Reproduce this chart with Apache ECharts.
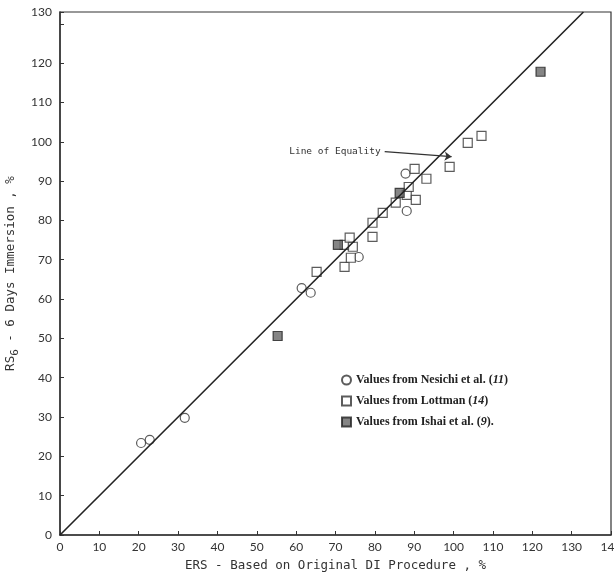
<!DOCTYPE html>
<html>
<head>
<meta charset="utf-8">
<title>RS6 vs ERS</title>
<script src="https://cdn.jsdelivr.net/npm/echarts@6/dist/echarts.min.js"></script>
<style>
  html, body { margin: 0; padding: 0; background: #fff; }
  #chart { width: 614px; height: 575px; }
</style>
</head>
<body>
<div id="chart"></div>
<script>
// points: [ERS %, RS6 %]
var nesichi = [
  [20.6, 23.4], [22.8, 24.2], [31.7, 29.8], [61.4, 62.8], [63.7, 61.6],
  [75.9, 70.7], [88.1, 82.4], [87.8, 91.9]
];
var lottman = [
  [65.2, 66.9], [72.3, 68.2], [73.9, 70.5], [72.3, 73.8], [74.4, 73.3],
  [73.6, 75.6], [79.4, 75.8], [79.4, 79.4], [82.0, 81.9], [85.3, 84.5],
  [88.1, 86.5], [90.4, 85.2], [88.6, 88.5], [93.1, 90.6], [90.1, 93.1],
  [99.0, 93.6], [103.6, 99.7], [107.1, 101.5]
];
var ishai = [
  [55.3, 50.6], [70.6, 73.8], [86.3, 87.0], [122.1, 117.8]
];
var equality = [[0, 0], [133, 133]];
var arrowFrom = [82.5, 97.5];
var arrowTo = [99.5, 96.2];

var names = [
  "Values from Nesichi et al. (11)",
  "Values from Lottman (14)",
  "Values from Ishai et al. (9)."
];

var mono = "DejaVu Sans Mono";
var chart = echarts.init(document.getElementById("chart"));

var option = {
  backgroundColor: "#fff",
  animation: false,
  grid: {
    left: 60, right: 3, top: 12, bottom: 40,
    outerBoundsMode: "none",
    show: true, borderColor: "#333", borderWidth: 1.2
  },
  xAxis: {
    type: "value",
    min: 0, max: 140, interval: 10,
    name: "ERS - Based on Original DI Procedure , %",
    nameLocation: "middle",
    nameGap: 24,
    nameTextStyle: { fontFamily: mono, fontSize: 12.5, color: "#333" },
    axisLine: { lineStyle: { color: "#333", width: 1.5 } },
    axisTick: { inside: true, length: 4, lineStyle: { color: "#333" } },
    axisLabel: { fontFamily: "Lato", fontSize: 12, color: "#333", margin: 6 },
    splitLine: { show: false }
  },
  yAxis: {
    type: "value",
    min: 0, max: 133, interval: 10,
    name: "RS{s|6} - 6 Days Immersion , %",
    nameLocation: "middle",
    nameGap: 33,
    nameTextStyle: {
      fontFamily: mono, fontSize: 12.5, color: "#333",
      rich: { s: { fontFamily: mono, fontSize: 11, color: "#333", padding: [7, 0, 0, 0] } }
    },
    axisLine: { lineStyle: { color: "#333", width: 1.5 } },
    axisTick: {
      inside: true, length: 4, lineStyle: { color: "#333" },
      interval: function (i, v) { return v !== 130; }
    },
    axisLabel: {
      fontFamily: "Lato", fontSize: 12, color: "#333", margin: 8,
      formatter: function (v) {
        // the figure prints 130 at the top of the frame
        if (v === 130) return "";
        if (v === 133) return "130";
        return String(v);
      }
    },
    splitLine: { show: false }
  },
  legend: {
    orient: "vertical",
    left: 336, top: 369,
    itemGap: 9,
    itemWidth: 9, itemHeight: 9,
    data: names,
    formatter: function (name) {
      var m = name.match(/^(.*\()(\d+)(\).*)$/);
      return m[1] + "{i|" + m[2] + "}" + m[3];
    },
    textStyle: {
      fontFamily: "Liberation Serif", fontWeight: "bold", fontSize: 12, color: "#222",
      rich: { i: { fontFamily: "Liberation Serif", fontWeight: "bold", fontStyle: "italic", fontSize: 12, color: "#222" } }
    }
  },
  series: [
    {
      name: "equality",
      type: "line",
      data: equality,
      symbol: "none",
      clip: true,
      lineStyle: { color: "#222", width: 1.6 },
      silent: true,
      markLine: {
        silent: true,
        symbol: ["none", "arrow"],
        symbolSize: 7,
        lineStyle: { color: "#333", width: 1.3, type: "solid", curveness: -0.05 },
        label: {
          show: true, position: "start", distance: 4,
          formatter: "Line of Equality",
          fontFamily: mono, fontSize: 9.5, color: "#333"
        },
        data: [[{ coord: arrowFrom }, { coord: arrowTo }]]
      }
    },
    {
      name: names[0],
      type: "scatter",
      data: nesichi,
      symbol: "circle",
      symbolSize: 9,
      itemStyle: { color: "#fff", borderColor: "#333", borderWidth: 1.2 }
    },
    {
      name: names[1],
      type: "scatter",
      data: lottman,
      symbol: "rect",
      symbolSize: 9,
      itemStyle: { color: "#fff", borderColor: "#333", borderWidth: 1.2 }
    },
    {
      name: names[2],
      type: "scatter",
      data: ishai,
      symbol: "rect",
      symbolSize: 9,
      itemStyle: { color: "#666", borderColor: "#222", borderWidth: 1.2 }
    }
  ]
};

chart.setOption(option);
</script>
</body>
</html>
